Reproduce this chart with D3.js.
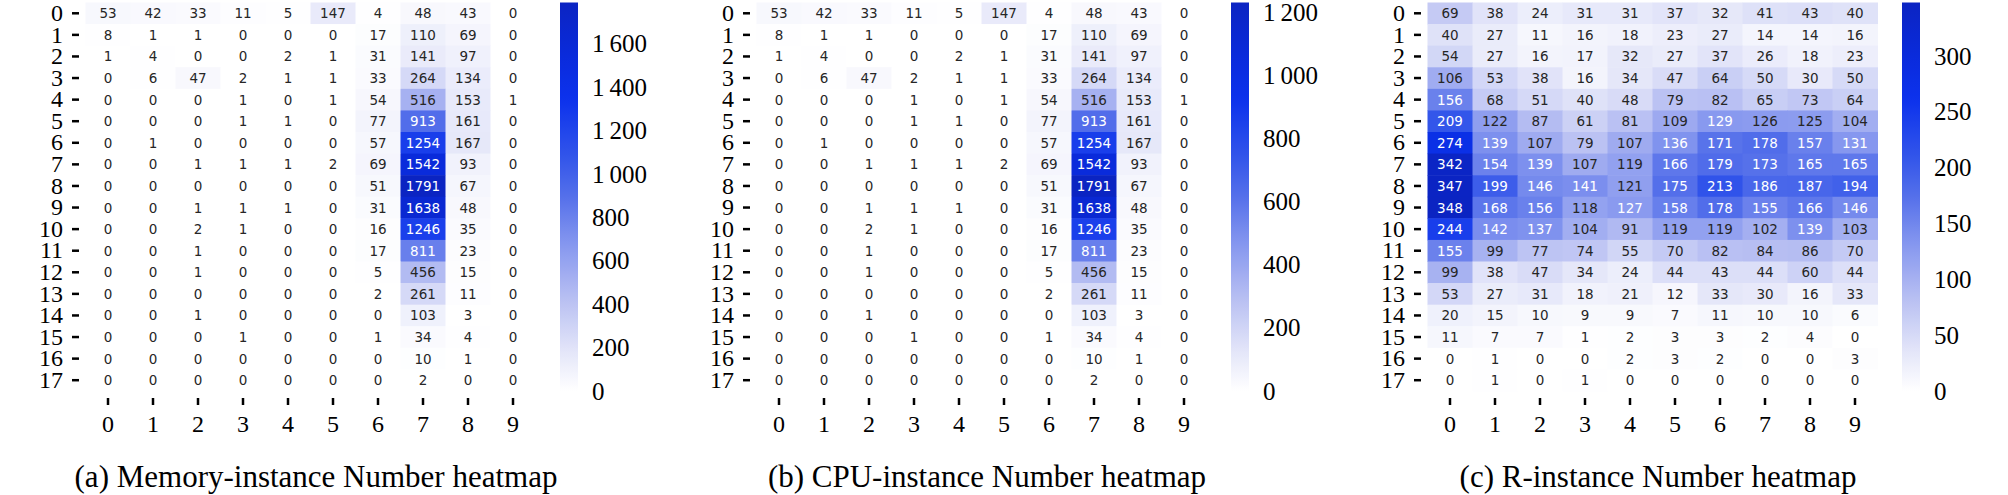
<!DOCTYPE html>
<html>
<head>
<meta charset="utf-8">
<script src="https://cdn.jsdelivr.net/npm/d3@7"></script>
<style>
  html, body { margin: 0; padding: 0; background: #fff; }
  svg { display: block; }
</style>
</head>
<body>
<svg id="chart" width="2008" height="495"></svg>
<script>
// ---------------- DATA ----------------
const rowLabels = ["0","1","2","3","4","5","6","7","8","9","10","11","12","13","14","15","16","17"];
const colLabels = ["0","1","2","3","4","5","6","7","8","9"];

const memoryValues = [
  [53,42,33,11,5,147,4,48,43,0],
  [8,1,1,0,0,0,17,110,69,0],
  [1,4,0,0,2,1,31,141,97,0],
  [0,6,47,2,1,1,33,264,134,0],
  [0,0,0,1,0,1,54,516,153,1],
  [0,0,0,1,1,0,77,913,161,0],
  [0,1,0,0,0,0,57,1254,167,0],
  [0,0,1,1,1,2,69,1542,93,0],
  [0,0,0,0,0,0,51,1791,67,0],
  [0,0,1,1,1,0,31,1638,48,0],
  [0,0,2,1,0,0,16,1246,35,0],
  [0,0,1,0,0,0,17,811,23,0],
  [0,0,1,0,0,0,5,456,15,0],
  [0,0,0,0,0,0,2,261,11,0],
  [0,0,1,0,0,0,0,103,3,0],
  [0,0,0,1,0,0,1,34,4,0],
  [0,0,0,0,0,0,0,10,1,0],
  [0,0,0,0,0,0,0,2,0,0]
];

const cpuValues = [
  [53,42,33,11,5,147,4,48,43,0],
  [8,1,1,0,0,0,17,110,69,0],
  [1,4,0,0,2,1,31,141,97,0],
  [0,6,47,2,1,1,33,264,134,0],
  [0,0,0,1,0,1,54,516,153,1],
  [0,0,0,1,1,0,77,913,161,0],
  [0,1,0,0,0,0,57,1254,167,0],
  [0,0,1,1,1,2,69,1542,93,0],
  [0,0,0,0,0,0,51,1791,67,0],
  [0,0,1,1,1,0,31,1638,48,0],
  [0,0,2,1,0,0,16,1246,35,0],
  [0,0,1,0,0,0,17,811,23,0],
  [0,0,1,0,0,0,5,456,15,0],
  [0,0,0,0,0,0,2,261,11,0],
  [0,0,1,0,0,0,0,103,3,0],
  [0,0,0,1,0,0,1,34,4,0],
  [0,0,0,0,0,0,0,10,1,0],
  [0,0,0,0,0,0,0,2,0,0]
];

const rValues = [
  [69,38,24,31,31,37,32,41,43,40],
  [40,27,11,16,18,23,27,14,14,16],
  [54,27,16,17,32,27,37,26,18,23],
  [106,53,38,16,34,47,64,50,30,50],
  [156,68,51,40,48,79,82,65,73,64],
  [209,122,87,61,81,109,129,126,125,104],
  [274,139,107,79,107,136,171,178,157,131],
  [342,154,139,107,119,166,179,173,165,165],
  [347,199,146,141,121,175,213,186,187,194],
  [348,168,156,118,127,158,178,155,166,146],
  [244,142,137,104,91,119,119,102,139,103],
  [155,99,77,74,55,70,82,84,86,70],
  [99,38,47,34,24,44,43,44,60,44],
  [53,27,31,18,21,12,33,30,16,33],
  [20,15,10,9,9,7,11,10,10,6],
  [11,7,7,1,2,3,3,2,4,0],
  [0,1,0,0,2,3,2,0,0,3],
  [0,1,0,1,0,0,0,0,0,0]
];

const memoryTicks = [0,200,400,600,800,1000,1200,1400,1600];
const cpuTicks = [0,200,400,600,800,1000,1200];
const rTicks = [0,50,100,150,200,250,300];

const memoryCaption = "(a) Memory-instance Number heatmap";
const cpuCaption = "(b) CPU-instance Number heatmap";
const rCaption = "(c) R-instance Number heatmap";

// colour-bar ranges shown on each panel
const memoryBarMax = 1791;
const cpuBarMax = 1232;
const rBarMax = 348;

// ---------------- COLOUR MAP ----------------
const cmapStops = [0, 0.1, 0.25, 0.4, 0.5, 0.6, 0.75, 0.87, 1.0];
const cmapColors = ["#ffffff","#e4e6f9","#b4bcf2","#7d90ee","#5570ea","#3356ea","#0c32ec","#0a2ada","#0b24c2"];
const cmap = d3.scaleLinear().domain(cmapStops).range(cmapColors).interpolate(d3.interpolateRgb).clamp(true);

const locale = d3.formatLocale({decimal: ".", thousands: "\u2009", grouping: [3], currency: ["", ""]});
const fmtBar = locale.format(",");

const svg = d3.select("#chart");
const defs = svg.append("defs");

const serif = "'Liberation Serif','Times New Roman',Times,serif";
const sans = "'DejaVu Sans',sans-serif";

function drawPanel(idx, values, colorMax, barMax, barTicks, caption) {
  const off = idx * 671;
  const g = svg.append("g").attr("transform", `translate(${off},0)`);

  const x = d3.scaleBand().domain(colLabels).range([85.5, 535.5]);
  const y = d3.scaleBand().domain(rowLabels).range([2.5, 391]);
  const norm = d3.scaleLinear().domain([0, colorMax]).range([0, 1]);

  const cells = [];
  values.forEach((row, i) => row.forEach((v, j) => cells.push({r: rowLabels[i], c: colLabels[j], v})));

  g.append("g").selectAll("rect").data(cells).join("rect")
    .attr("x", d => x(d.c))
    .attr("y", d => y(d.r))
    .attr("width", x.bandwidth() + 0.5)
    .attr("height", y.bandwidth() + 0.5)
    .attr("fill", d => cmap(norm(d.v)));

  g.append("g").selectAll("text").data(cells).join("text")
    .attr("x", d => x(d.c) + x.bandwidth() / 2)
    .attr("y", d => y(d.r) + y.bandwidth() / 2)
    .attr("text-anchor", "middle")
    .attr("dominant-baseline", "central")
    .style("font-family", sans)
    .style("font-size", "13.5px")
    .attr("fill", d => norm(d.v) > 0.3635 ? "#ffffff" : "#262626")
    .text(d => d.v);

  // Y axis
  const yAxis = g.append("g").attr("transform", "translate(79,0)")
    .call(d3.axisLeft(y).tickSize(7).tickPadding(9));
  yAxis.select(".domain").remove();
  yAxis.selectAll(".tick line").attr("stroke", "#000").attr("stroke-width", 2.5);
  yAxis.selectAll(".tick text").style("font-family", serif).style("font-size", "24px").attr("fill", "#000");

  // X axis
  const xAxis = g.append("g").attr("transform", "translate(0,398)")
    .call(d3.axisBottom(x).tickSize(7).tickPadding(10));
  xAxis.select(".domain").remove();
  xAxis.selectAll(".tick line").attr("stroke", "#000").attr("stroke-width", 2.5);
  xAxis.selectAll(".tick text").style("font-family", serif).style("font-size", "24px").attr("fill", "#000");

  // Colour bar
  const gid = "grad" + idx;
  const grad = defs.append("linearGradient").attr("id", gid)
    .attr("x1", 0).attr("y1", 1).attr("x2", 0).attr("y2", 0);
  d3.range(0, 1.0001, 0.02).forEach(t => {
    grad.append("stop").attr("offset", t).attr("stop-color", cmap(t));
  });
  const cb = d3.scaleLinear().domain([0, barMax]).range([391, 2.5]);
  g.append("rect").attr("x", 560).attr("y", 2.5).attr("width", 18).attr("height", 388.5)
    .attr("fill", `url(#${gid})`);
  const cbAxis = g.append("g").attr("transform", "translate(578,0)")
    .call(d3.axisRight(cb).tickValues(barTicks).tickSize(0).tickPadding(14).tickFormat(fmtBar));
  cbAxis.select(".domain").remove();
  cbAxis.selectAll(".tick text").style("font-family", serif).style("font-size", "25px").attr("fill", "#000");

  // Caption
  g.append("text").attr("x", 316).attr("y", 487).attr("text-anchor", "middle")
    .style("font-family", serif).style("font-size", "31px").attr("fill", "#000")
    .text(caption);
}

drawPanel(0, memoryValues, 1791, memoryBarMax, memoryTicks, memoryCaption);
drawPanel(1, cpuValues, 1791, cpuBarMax, cpuTicks, cpuCaption);
drawPanel(2, rValues, 348, rBarMax, rTicks, rCaption);
</script>
</body>
</html>
